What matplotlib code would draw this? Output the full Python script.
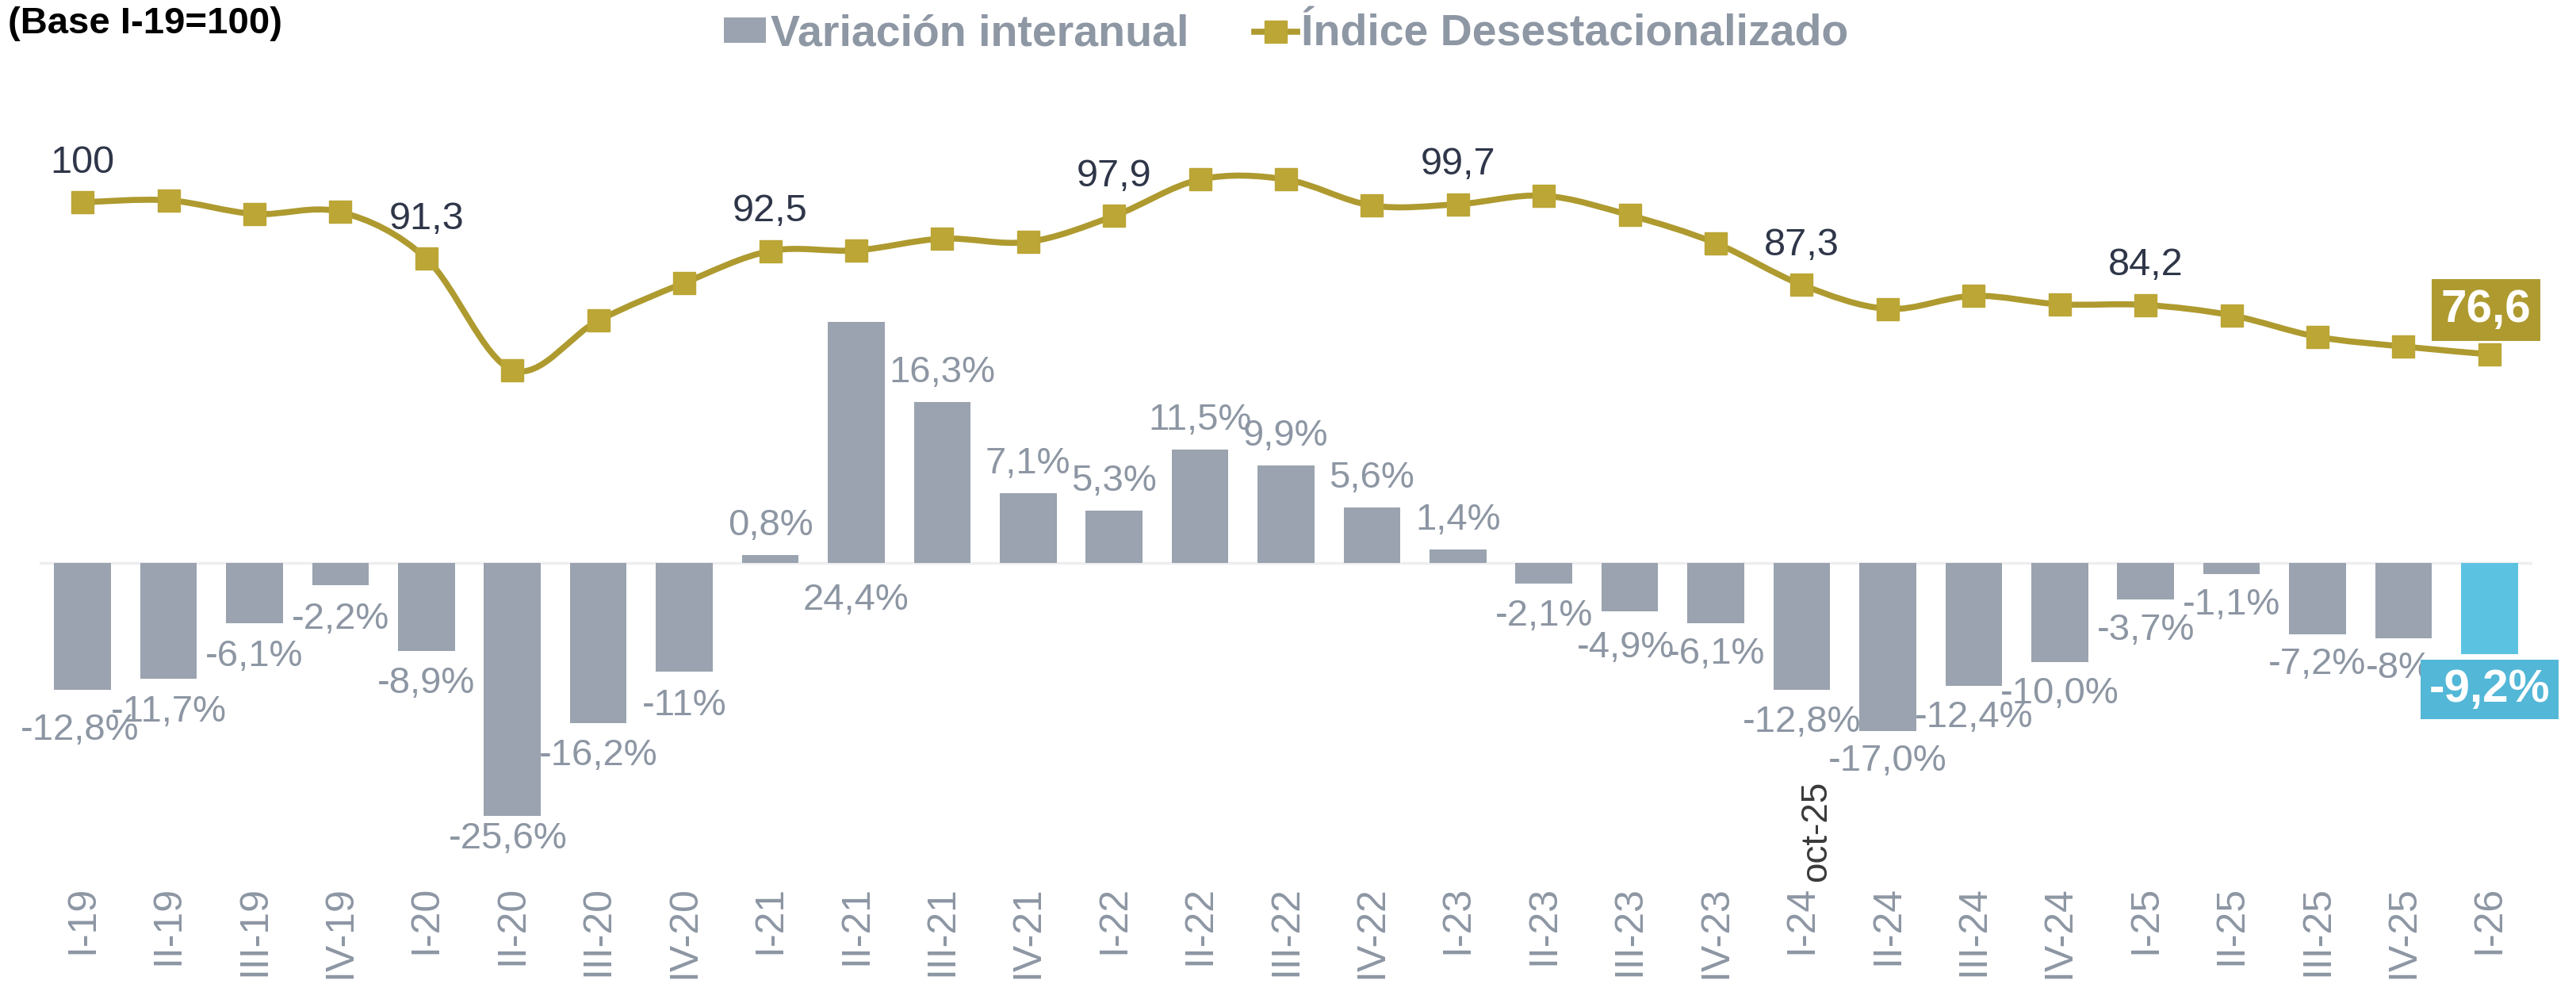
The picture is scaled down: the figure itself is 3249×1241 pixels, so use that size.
import matplotlib
matplotlib.use('Agg')
import matplotlib.pyplot as plt
from matplotlib.path import Path
from matplotlib.patches import PathPatch, Rectangle
from matplotlib.lines import Line2D

plt.rcParams['font.family'] = ['Liberation Sans', 'DejaVu Sans']

quarters = ['I-19', 'II-19', 'III-19', 'IV-19', 'I-20', 'II-20', 'III-20', 'IV-20',
            'I-21', 'II-21', 'III-21', 'IV-21', 'I-22', 'II-22', 'III-22', 'IV-22',
            'I-23', 'II-23', 'III-23', 'IV-23', 'I-24', 'II-24', 'III-24', 'IV-24',
            'I-25', 'II-25', 'III-25', 'IV-25', 'I-26']
variacion = [-12.8, -11.7, -6.1, -2.2, -8.9, -25.6, -16.2, -11.0,
             0.8, 24.4, 16.3, 7.1, 5.3, 11.5, 9.9, 5.6,
             1.4, -2.1, -4.9, -6.1, -12.8, -17.0, -12.4, -10.0,
             -3.7, -1.1, -7.2, -7.6, -9.2]
variacion_txt = ['-12,8%', '-11,7%', '-6,1%', '-2,2%', '-8,9%', '-25,6%', '-16,2%', '-11%',
                 '0,8%', '24,4%', '16,3%', '7,1%', '5,3%', '11,5%', '9,9%', '5,6%',
                 '1,4%', '-2,1%', '-4,9%', '-6,1%', '-12,8%', '-17,0%', '-12,4%', '-10,0%',
                 '-3,7%', '-1,1%', '-7,2%', '-8%', '-9,2%']
indice = [100.0, 100.3, 98.2, 98.5, 91.3, 74.2, 81.8, 87.6,
          92.5, 92.6, 94.4, 93.9, 97.9, 103.5, 103.5, 99.5,
          99.7, 101.0, 98.0, 93.7, 87.3, 83.6, 85.6, 84.3,
          84.2, 82.6, 79.3, 77.8, 76.6]
indice_lbl_pos = [0, 4, 8, 12, 16, 20, 24, 28]
indice_lbl_txt = ['100', '91,3', '92,5', '97,9', '99,7', '87,3', '84,2', '76,6']

# estilos
c_bar = '#9AA3AF'
c_last = '#5BC3E1'
c_last_box = '#53B7D7'
c_line = '#AE9A2F'
c_mark = '#BBA636'
c_lbl_bar = '#8D96A3'
c_lbl_line = '#2F3649'

# desplazamientos de etiquetas (pixeles)
bar_dx = [-4, 0, 0, 0, 0, -6, 0, 0, 0, 0, 0, 0, 0, 0, 0, 0, 0, 0, -5, 0,
          0, 0, 0, 0, 0, 0, 0, -6, 0]
bar_dy = [-51, -42, -42, -43, -41, -29, -41, -43, 37, -351, 37, 37, 37, 37, 37, 37,
          37, -41, -46, -39, -41, -38, -40, -40, -39, -39, -38, -38, -45]

W, H = 3249, 1241
fig = plt.figure(figsize=(W / 100, H / 100), dpi=100)
ax = fig.add_axes([50 / W, (H - 1110) / H, (3194 - 50) / W, (1110 - 60) / H])
ax2 = ax.twinx()

n = len(quarters)
x = list(range(n))
colors = [c_bar] * (n - 1) + [c_last]
ax.bar(x, variacion, width=0.66, color=colors, zorder=2)
ax.axhline(0, color='#EEEEF1', lw=2.5, zorder=1)
ax.set_xlim(-0.5, n - 0.5)
ax.set_ylim(-32.1, 52.2)
ax2.set_ylim(-4.3, 123.8)

for a in (ax, ax2):
    for s in a.spines.values():
        s.set_visible(False)
    a.tick_params(axis='y', left=False, right=False, labelleft=False, labelright=False)

ax.set_xticks(x)
ax.set_xticklabels(quarters, rotation=90, fontsize=36, color=c_lbl_bar)
ax.tick_params(axis='x', length=0, pad=5)

# linea suavizada (bezier tipo excel)
pts = list(zip(x, indice))
verts = [pts[0]]
codes = [Path.MOVETO]
for i in range(n - 1):
    p0 = pts[i - 1] if i > 0 else pts[i]
    p1 = pts[i]
    p2 = pts[i + 1]
    p3 = pts[i + 2] if i + 2 < n else pts[i + 1]
    c1 = (p1[0] + (p2[0] - p0[0]) / 6, p1[1] + (p2[1] - p0[1]) / 6)
    c2 = (p2[0] - (p3[0] - p1[0]) / 6, p2[1] - (p3[1] - p1[1]) / 6)
    verts += [c1, c2, p2]
    codes += [Path.CURVE4] * 3
ax2.add_patch(PathPatch(Path(verts, codes), fill=False, ec=c_line, lw=5.5,
                        capstyle='round', joinstyle='round', zorder=3))
ax2.plot(x, indice, ls='none', marker='s', ms=20, mfc=c_mark, mec=c_mark, zorder=4)

# etiquetas barras
for i in range(n):
    if i == n - 1:
        ax.annotate(variacion_txt[i], xy=(i, variacion[i]), xytext=(bar_dx[i], bar_dy[i]),
                    textcoords='offset pixels', ha='center', va='center', fontsize=42,
                    fontweight='bold', color='white',
                    bbox=dict(boxstyle='square,pad=0.18', fc=c_last_box, ec='none'))
    else:
        ax.annotate(variacion_txt[i], xy=(i, variacion[i]), xytext=(bar_dx[i], bar_dy[i]),
                    textcoords='offset pixels', ha='center', va='center', fontsize=34,
                    color=c_lbl_bar)

# etiquetas indice
for k, i in enumerate(indice_lbl_pos):
    if i == n - 1:
        ax2.annotate(indice_lbl_txt[k], xy=(i, indice[i]), xytext=(-4, 56),
                     textcoords='offset pixels', ha='center', va='center', fontsize=42,
                     fontweight='bold', color='white',
                     bbox=dict(boxstyle='square,pad=0.2', fc=c_line, ec='none'))
    else:
        ax2.annotate(indice_lbl_txt[k], xy=(i, indice[i]), xytext=(0, 50),
                     textcoords='offset pixels', ha='center', va='center', fontsize=35,
                     color=c_lbl_line)

ax.annotate('oct-25', xy=(20, 0), xycoords=('data', 'axes fraction'), xytext=(19, -2),
            textcoords='offset pixels', rotation=90, ha='center', va='bottom',
            fontsize=33, color='#3A3A3A', annotation_clip=False)

fig.text(10 / W, 1 - 8 / H, '(Base I-19=100)', fontsize=34, fontweight='bold',
         color='black', ha='left', va='top')

handles = [Rectangle((0, 0), 1, 1, fc=c_bar, ec='none'),
           Line2D([], [], color=c_line, lw=5.5, marker='s', ms=20, mfc=c_mark, mec=c_mark)]
leg = fig.legend(handles, ['Variación interanual', 'Índice Desestacionalizado'],
                 loc='center left', bbox_to_anchor=(885 / W, 1 - 44 / H), ncol=2,
                 frameon=False, borderpad=0, handlelength=0.96, handleheight=0.5,
                 handletextpad=0.1, columnspacing=1.5,
                 prop={'size': 40, 'weight': 'bold'})
for t in leg.get_texts():
    t.set_color('#8E97A4')

fig.savefig('out.png', dpi=100, facecolor='white')
